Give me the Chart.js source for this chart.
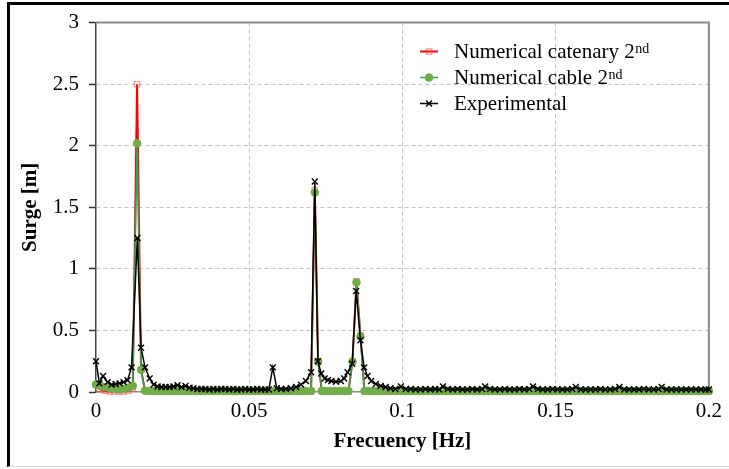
<!DOCTYPE html>
<html>
<head>
<meta charset="utf-8">
<script src="https://cdn.jsdelivr.net/npm/chart.js@4/dist/chart.umd.min.js"></script>
<style>
  html, body { margin: 0; padding: 0; background: #fff; }
  #frame { position: absolute; left: 7px; top: 2px; width: 722px; height: 465px; box-sizing: border-box;
           border-top: 3px solid #000; border-left: 3px solid #000; border-bottom: 1px solid #d8d8d8; }
  #wrap { position: absolute; left: 0; top: 0; width: 729px; height: 469px; }
</style>
</head>
<body>
<div id="frame"></div>
<div id="wrap"><canvas id="c" width="729" height="469"></canvas></div>
<script>
// ---------------- data ----------------
const seriesNames = ['Numerical catenary 2nd', 'Numerical cable 2nd', 'Experimental'];
const xTickValues = [0, 0.05, 0.1, 0.15, 0.2];
const yTickValues = [0, 0.5, 1, 1.5, 2, 2.5, 3];
const xTitle = 'Frecuency [Hz]';
const yTitle = 'Surge [m]';

// numerical frequencies [Hz]
const numF = [
  0, 0.0015, 0.003, 0.0045, 0.006, 0.0075, 0.009, 0.0105, 0.012,
  0.0134, 0.0147, 0.016, 0.0175,
  0.019, 0.0205, 0.022, 0.0235, 0.025, 0.0265, 0.028, 0.0295, 0.031, 0.0325, 0.034, 0.0355, 0.037, 0.0385, 0.04, 0.0415, 0.043,
  0.0445, 0.046, 0.0475, 0.049, 0.0505, 0.052, 0.0535, 0.055, 0.0565, 0.058, 0.0595, 0.061, 0.0625, 0.064, 0.0655, 0.067, 0.0685,
  0.0702, 0.0714, 0.0725, 0.0737,
  0.075, 0.0765, 0.078, 0.0795, 0.081, 0.0824,
  0.0837, 0.0850, 0.0863, 0.0876,
  0.089, 0.0905, 0.092, 0.0935, 0.095, 0.0965, 0.098, 0.0995, 0.101, 0.1025, 0.104, 0.1055, 0.107, 0.1085, 0.11,
  0.1115, 0.113, 0.1145, 0.116, 0.1175, 0.119, 0.1205, 0.122, 0.1235, 0.125, 0.1265, 0.128, 0.1295, 0.131, 0.1325,
  0.134, 0.1355, 0.137, 0.1385, 0.14, 0.1415, 0.143, 0.1445, 0.146, 0.1475, 0.149, 0.1505, 0.152, 0.1535, 0.155,
  0.1565, 0.158, 0.1595, 0.161, 0.1625, 0.164, 0.1655, 0.167, 0.1685, 0.17, 0.1715, 0.173, 0.1745, 0.176, 0.1775,
  0.179, 0.1805, 0.182, 0.1835, 0.185, 0.1865, 0.188, 0.1895, 0.191, 0.1925, 0.194, 0.1955, 0.197, 0.1985, 0.2
];
// numerical catenary 2nd order surge [m]
const catY = [
  0.06, 0.02, 0.01, 0.005, 0.005, 0.005, 0.005, 0.01, 0.03,
  2.5, 0.18, 0.01, 0.005,
  0.003, 0.003, 0.003, 0.003, 0.003, 0.003, 0.003, 0.003, 0.003, 0.003, 0.003, 0.003, 0.003, 0.003, 0.003, 0.003, 0.003,
  0.003, 0.003, 0.003, 0.003, 0.003, 0.003, 0.003, 0.003, 0.003, 0.003, 0.003, 0.003, 0.003, 0.003, 0.003, 0.003, 0.003,
  0.005, 1.64, 0.25, 0.005,
  0.003, 0.003, 0.003, 0.003, 0.003, 0.003,
  0.25, 0.9, 0.46, 0.005,
  0.003, 0.003, 0.003, 0.003, 0.003, 0.003, 0.003, 0.003, 0.003, 0.003, 0.003, 0.003, 0.003, 0.003, 0.003,
  0.003, 0.003, 0.003, 0.003, 0.003, 0.003, 0.003, 0.003, 0.003, 0.003, 0.003, 0.003, 0.003, 0.003, 0.003,
  0.003, 0.003, 0.003, 0.003, 0.003, 0.003, 0.003, 0.003, 0.003, 0.003, 0.003, 0.003, 0.003, 0.003, 0.003,
  0.003, 0.003, 0.003, 0.003, 0.003, 0.003, 0.003, 0.003, 0.003, 0.003, 0.003, 0.003, 0.003, 0.003, 0.003,
  0.003, 0.003, 0.003, 0.003, 0.003, 0.003, 0.003, 0.003, 0.003, 0.003, 0.003, 0.003, 0.003, 0.003, 0.003
];
// numerical cable 2nd order surge [m]
const cabY = [
  0.06, 0.05, 0.04, 0.03, 0.025, 0.02, 0.025, 0.035, 0.05,
  2.02, 0.18, 0.01, 0.008,
  0.008, 0.008, 0.008, 0.008, 0.008, 0.008, 0.008, 0.008, 0.008, 0.008, 0.008, 0.008, 0.008, 0.008, 0.008, 0.008, 0.008,
  0.008, 0.008, 0.008, 0.008, 0.008, 0.008, 0.008, 0.008, 0.008, 0.008, 0.008, 0.008, 0.008, 0.008, 0.008, 0.008, 0.008,
  0.008, 1.62, 0.245, 0.008,
  0.008, 0.008, 0.008, 0.008, 0.008, 0.008,
  0.245, 0.89, 0.45, 0.008,
  0.008, 0.008, 0.008, 0.008, 0.008, 0.008, 0.008, 0.008, 0.008, 0.008, 0.008, 0.008, 0.008, 0.008, 0.008,
  0.008, 0.008, 0.008, 0.008, 0.008, 0.008, 0.008, 0.008, 0.008, 0.008, 0.008, 0.008, 0.008, 0.008, 0.008,
  0.008, 0.008, 0.008, 0.008, 0.008, 0.008, 0.008, 0.008, 0.008, 0.008, 0.008, 0.008, 0.008, 0.008, 0.008,
  0.008, 0.008, 0.008, 0.008, 0.008, 0.008, 0.008, 0.008, 0.008, 0.008, 0.008, 0.008, 0.008, 0.008, 0.008,
  0.008, 0.008, 0.008, 0.008, 0.008, 0.008, 0.008, 0.008, 0.008, 0.008, 0.008, 0.008, 0.008, 0.008, 0.008
];

// experimental frequencies [Hz]
const expF = [
  0.0000, 0.0011, 0.0023, 0.0038, 0.0051, 0.0064, 0.0077, 0.0090, 0.0103, 0.0116,
  0.0135, 0.0147, 0.0160, 0.0175, 0.0188, 0.0201, 0.0214, 0.0227, 0.0240, 0.0253,
  0.0266, 0.0279, 0.0292, 0.0305, 0.0318, 0.0331, 0.0344, 0.0357, 0.0370, 0.0383,
  0.0396, 0.0409, 0.0422, 0.0435, 0.0448, 0.0461, 0.0474, 0.0487, 0.0500, 0.0513,
  0.0526, 0.0539, 0.0552, 0.0564, 0.0577, 0.0590, 0.0604, 0.0620, 0.0636, 0.0653,
  0.0669, 0.0685, 0.0702, 0.0714, 0.0724, 0.0735, 0.0746, 0.0757, 0.0768, 0.0783,
  0.0799, 0.0810, 0.0821, 0.0836, 0.0849, 0.0863, 0.0875, 0.0886, 0.0898, 0.0913,
  0.0929, 0.0945, 0.0961, 0.0977, 0.0995, 0.1011, 0.1027, 0.1043, 0.1059, 0.1075,
  0.1091, 0.1107, 0.1120, 0.1132, 0.1148, 0.1164, 0.1180, 0.1196, 0.1212, 0.1228,
  0.1244, 0.1260, 0.1270, 0.1286, 0.1302, 0.1318, 0.1334, 0.1350, 0.1366, 0.1382,
  0.1398, 0.1414, 0.1426, 0.1442, 0.1458, 0.1474, 0.1490, 0.1506, 0.1522, 0.1538,
  0.1554, 0.1566, 0.1582, 0.1598, 0.1614, 0.1630, 0.1646, 0.1662, 0.1678, 0.1694,
  0.1708, 0.1724, 0.1740, 0.1756, 0.1772, 0.1788, 0.1804, 0.1820, 0.1836, 0.1846,
  0.1862, 0.1878, 0.1894, 0.1910, 0.1926, 0.1942, 0.1958, 0.1974, 0.1990, 0.2000
];
// experimental surge [m]
const expY = [
  0.25, 0.07, 0.13, 0.08, 0.06, 0.065, 0.07, 0.08, 0.095, 0.20,
  1.25, 0.36, 0.20, 0.11, 0.06, 0.045, 0.04, 0.04, 0.04, 0.045,
  0.055, 0.04, 0.05, 0.035, 0.03, 0.025, 0.025, 0.025, 0.02, 0.025,
  0.02, 0.025, 0.025, 0.02, 0.025, 0.02, 0.02, 0.025, 0.02, 0.02,
  0.025, 0.02, 0.02, 0.02, 0.20, 0.03, 0.025, 0.025, 0.03, 0.04,
  0.06, 0.09, 0.16, 1.71, 0.25, 0.15, 0.11, 0.097, 0.089, 0.083,
  0.089, 0.11, 0.16, 0.23, 0.82, 0.42, 0.20, 0.13, 0.09, 0.065,
  0.05, 0.04, 0.03, 0.025, 0.045, 0.025, 0.025, 0.02, 0.02, 0.025,
  0.02, 0.025, 0.02, 0.045, 0.025, 0.02, 0.025, 0.02, 0.02, 0.025,
  0.02, 0.025, 0.045, 0.025, 0.02, 0.02, 0.025, 0.02, 0.02, 0.025,
  0.02, 0.025, 0.045, 0.025, 0.02, 0.02, 0.025, 0.02, 0.02, 0.02,
  0.025, 0.04, 0.02, 0.02, 0.02, 0.02, 0.025, 0.02, 0.02, 0.025,
  0.04, 0.02, 0.02, 0.02, 0.02, 0.025, 0.02, 0.02, 0.025, 0.04,
  0.02, 0.02, 0.02, 0.02, 0.02, 0.02, 0.02, 0.02, 0.02, 0.02
];

// ---------------- chart ----------------
const SERIF = '"Liberation Serif", "Times New Roman", serif';
const pairs = (xs, ys) => xs.map((x, i) => ({ x: x, y: ys[i] }));

const framePlugin = {
  id: 'frame',
  beforeDatasetsDraw(chart) {
    const { ctx, chartArea: a } = chart;
    ctx.save();
    ctx.strokeStyle = '#8a8a8a';
    ctx.lineWidth = 2;
    ctx.beginPath();
    ctx.moveTo(a.left, a.top);
    ctx.lineTo(a.right, a.top);
    ctx.lineTo(a.right, a.bottom);
    ctx.stroke();
    ctx.restore();
  }
};

const legendPlugin = {
  id: 'supLegend',
  afterDraw(chart) {
    const { ctx } = chart;
    const x0 = 420, x1 = 438, tx = 454;
    const baselines = [58, 84, 110];
    chart.data.datasets.forEach((ds, i) => {
      const by = baselines[i];
      const ly = by - 6.5;
      ctx.save();
      ctx.strokeStyle = ds.borderColor;
      ctx.lineWidth = ds.borderWidth;
      ctx.beginPath(); ctx.moveTo(x0, ly); ctx.lineTo(x1, ly); ctx.stroke();
      ctx.lineWidth = ds.pointBorderWidth;
      ctx.strokeStyle = ds.pointBorderColor;
      ctx.fillStyle = ds.pointBackgroundColor;
      Chart.helpers.drawPoint(ctx, { pointStyle: ds.pointStyle, radius: ds.pointRadius, rotation: 0, borderWidth: ds.pointBorderWidth }, (x0 + x1) / 2, ly);
      ctx.fillStyle = '#000';
      ctx.textBaseline = 'alphabetic';
      ctx.textAlign = 'left';
      const m = ds.label.match(/^(.*\d)(st|nd|rd|th)$/);
      const main = m ? m[1] : ds.label;
      ctx.font = '21px ' + SERIF;
      ctx.fillText(main, tx, by);
      if (m) {
        const w = ctx.measureText(main).width;
        ctx.font = '14px ' + SERIF;
        ctx.fillText(m[2], tx + w + 0.5, by - 5);
      }
      ctx.restore();
    });
  }
};

new Chart(document.getElementById('c'), {
  type: 'line',
  data: {
    datasets: [
      {
        label: seriesNames[0], data: pairs(numF, catY), order: 2,
        borderColor: '#ff0000', borderWidth: 2,
        pointStyle: 'rect', pointRadius: 3.8, pointBorderWidth: 1.2,
        pointBorderColor: 'rgba(255,60,60,0.55)', pointBackgroundColor: 'rgba(255,255,255,0)',
        tension: 0, clip: false
      },
      {
        label: seriesNames[1], data: pairs(numF, cabY), order: 1,
        borderColor: '#1fae5c', borderWidth: 1.5,
        pointStyle: 'circle', pointRadius: 3.8, pointBorderWidth: 1,
        pointBorderColor: '#70ad47', pointBackgroundColor: '#70ad47',
        tension: 0, clip: false
      },
      {
        label: seriesNames[2], data: pairs(expF, expY), order: 0,
        borderColor: '#000000', borderWidth: 1.5,
        pointStyle: 'crossRot', pointRadius: 4.2, pointBorderWidth: 1.4,
        pointBorderColor: '#000000', pointBackgroundColor: '#000000',
        tension: 0, clip: false
      }
    ]
  },
  options: {
    responsive: false,
    animation: false,
    events: [],
    layout: { padding: { left: 0, top: 21, right: 19, bottom: 0 } },
    plugins: { legend: { display: false }, tooltip: { enabled: false } },
    scales: {
      x: {
        type: 'linear', min: 0, max: 0.2,
        afterFit: s => { s.height = 77; },
        afterBuildTicks: s => { s.ticks = xTickValues.map(v => ({ value: v })); },
        ticks: {
          font: { family: SERIF, size: 21 }, color: '#000', padding: 7,
          maxRotation: 0, autoSkip: false,
          callback: v => String(v)
        },
        grid: {
          drawTicks: false,
          color: c => (c.tick && (c.tick.value === 0 || c.tick.value === 0.2)) ? 'rgba(0,0,0,0)' : '#c4c4c4',
          lineWidth: 1
        },
        border: { display: true, color: '#8a8a8a', width: 1.5, dash: [4, 3] },
        title: { display: true, text: xTitle, font: { family: SERIF, size: 21, weight: 'bold' }, color: '#000', padding: { top: 0, bottom: 15 } }
      },
      y: {
        type: 'linear', min: 0, max: 3,
        afterFit: s => { s.width = 96; },
        afterBuildTicks: s => { s.ticks = yTickValues.map(v => ({ value: v })); },
        ticks: {
          font: { family: SERIF, size: 21 }, color: '#000', padding: 10,
          callback: v => String(v)
        },
        grid: {
          drawTicks: true, tickLength: 7, tickColor: '#333', tickWidth: 1.5,
          color: c => (c.tick && (c.tick.value === 0 || c.tick.value === 3)) ? 'rgba(0,0,0,0)' : '#c4c4c4',
          lineWidth: 1
        },
        border: { display: true, color: '#444', width: 1.5, dash: [4, 3] },
        title: { display: true, text: yTitle, font: { family: SERIF, size: 21, weight: 'bold' }, color: '#000', padding: { top: 18, bottom: 0 } }
      }
    }
  },
  plugins: [framePlugin, legendPlugin]
});
</script>
</body>
</html>
